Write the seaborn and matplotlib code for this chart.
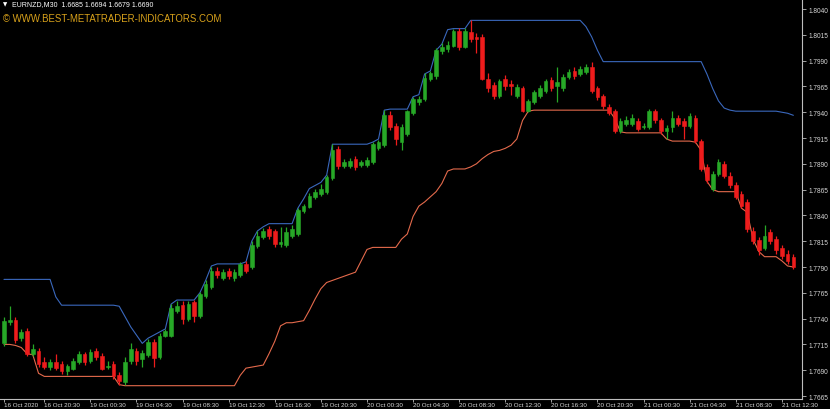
import numpy as np
import pandas as pd
import seaborn as sns
import matplotlib.pyplot as plt

# EURNZD M30 bars
opens = [1.7716, 1.7737, 1.7739, 1.7721, 1.7728, 1.7706, 1.7709, 1.7698, 1.7693, 1.7698,
         1.7696, 1.7689, 1.7691, 1.7698, 1.7706, 1.7699, 1.7709, 1.7704, 1.7693, 1.7696,
         1.7685, 1.7679, 1.7699, 1.7709, 1.7701, 1.7705, 1.7717, 1.7703, 1.7723, 1.7723,
         1.7747, 1.7753, 1.7740, 1.7756, 1.7743, 1.7762, 1.7771, 1.7786, 1.7779, 1.7786,
         1.7779, 1.7782, 1.7793, 1.7790, 1.7810, 1.7819, 1.7827, 1.7825, 1.7812, 1.7811,
         1.7820, 1.7822, 1.7844, 1.7848, 1.7858, 1.7861, 1.7863, 1.7876, 1.7904, 1.7888,
         1.7888, 1.7895, 1.7889, 1.7889, 1.7892, 1.7905, 1.7908, 1.7937, 1.7927, 1.7911,
         1.7919, 1.7939, 1.7950, 1.7953, 1.7972, 1.7975, 1.7999, 1.8001, 1.8004, 1.8019,
         1.8003, 1.8018, 1.8013, 1.8013, 1.7972, 1.7966, 1.7956, 1.7972, 1.7967, 1.7956,
         1.7963, 1.7941, 1.7950, 1.7956, 1.7961, 1.7971, 1.7965, 1.7963, 1.7974, 1.7980,
         1.7977, 1.7979, 1.7984, 1.7963, 1.7956, 1.7945, 1.7941, 1.7922, 1.7929, 1.7929,
         1.7931, 1.7926, 1.7926, 1.7941, 1.7932, 1.7922, 1.7926, 1.7934, 1.7931, 1.7927,
         1.7934, 1.7912, 1.7887, 1.7866, 1.7880, 1.7890, 1.7878, 1.7869, 1.7861, 1.7853,
         1.7825, 1.7816, 1.7808, 1.7824, 1.7817, 1.7808, 1.7803, 1.7800]
highs = [1.7742, 1.7752, 1.7742, 1.7730, 1.7731, 1.7715, 1.7712, 1.7703, 1.7701, 1.7706,
         1.7699, 1.7696, 1.7702, 1.7709, 1.7708, 1.7711, 1.7712, 1.7707, 1.7699, 1.7699,
         1.7688, 1.7703, 1.7716, 1.7712, 1.7710, 1.7720, 1.7720, 1.7726, 1.7730, 1.7754,
         1.7757, 1.7757, 1.7757, 1.7758, 1.7766, 1.7777, 1.7790, 1.7790, 1.7788, 1.7789,
         1.7788, 1.7795, 1.7796, 1.7815, 1.7825, 1.7828, 1.7830, 1.7827, 1.7829, 1.7829,
         1.7831, 1.7847, 1.7851, 1.7862, 1.7866, 1.7870, 1.7879, 1.7909, 1.7907, 1.7895,
         1.7896, 1.7898, 1.7894, 1.7897, 1.7911, 1.7913, 1.7942, 1.7941, 1.7930, 1.7929,
         1.7942, 1.7955, 1.7956, 1.7978, 1.7980, 1.8002, 1.8007, 1.8009, 1.8021, 1.8022,
         1.8022, 1.8029, 1.8017, 1.8016, 1.7978, 1.7969, 1.7972, 1.7976, 1.7971, 1.7967,
         1.7965, 1.7953, 1.7962, 1.7966, 1.7972, 1.7974, 1.7984, 1.7977, 1.7982, 1.7984,
         1.7985, 1.7987, 1.7989, 1.7965, 1.7958, 1.7948, 1.7943, 1.7934, 1.7936, 1.7938,
         1.7934, 1.7930, 1.7943, 1.7943, 1.7934, 1.7928, 1.7941, 1.7937, 1.7934, 1.7939,
         1.7937, 1.7914, 1.7890, 1.7883, 1.7895, 1.7893, 1.7882, 1.7872, 1.7864, 1.7856,
         1.7829, 1.7819, 1.7831, 1.7827, 1.7820, 1.7811, 1.7806, 1.7803]
lows = [1.7713, 1.7734, 1.7716, 1.7718, 1.7704, 1.7704, 1.7693, 1.7691, 1.7690, 1.7690,
        1.7686, 1.7685, 1.7690, 1.7696, 1.7695, 1.7697, 1.7700, 1.7690, 1.7691, 1.7681,
        1.7676, 1.7676, 1.7696, 1.7695, 1.7693, 1.7703, 1.7693, 1.7701, 1.7722, 1.7722,
        1.7745, 1.7735, 1.7738, 1.7737, 1.7741, 1.7760, 1.7769, 1.7779, 1.7777, 1.7778,
        1.7776, 1.7780, 1.7784, 1.7788, 1.7808, 1.7817, 1.7817, 1.7809, 1.7809, 1.7809,
        1.7818, 1.7820, 1.7842, 1.7847, 1.7856, 1.7859, 1.7861, 1.7874, 1.7885, 1.7886,
        1.7886, 1.7884, 1.7887, 1.7887, 1.7890, 1.7903, 1.7906, 1.7923, 1.7908, 1.7903,
        1.7917, 1.7937, 1.7947, 1.7951, 1.7970, 1.7972, 1.7996, 1.7998, 1.8003, 1.8000,
        1.8002, 1.8008, 1.7997, 1.7971, 1.7960, 1.7953, 1.7954, 1.7962, 1.7957, 1.7954,
        1.7940, 1.7940, 1.7948, 1.7954, 1.7959, 1.7961, 1.7950, 1.7961, 1.7972, 1.7972,
        1.7975, 1.7977, 1.7959, 1.7952, 1.7943, 1.7937, 1.7920, 1.7920, 1.7927, 1.7927,
        1.7922, 1.7924, 1.7924, 1.7930, 1.7919, 1.7914, 1.7921, 1.7927, 1.7914, 1.7925,
        1.7910, 1.7883, 1.7871, 1.7864, 1.7878, 1.7876, 1.7867, 1.7856, 1.7847, 1.7824,
        1.7812, 1.7802, 1.7806, 1.7812, 1.7803, 1.7798, 1.7793, 1.7788]
closes = [1.7738, 1.7739, 1.7719, 1.7727, 1.7706, 1.7711, 1.7696, 1.7693, 1.7698, 1.7692,
          1.7689, 1.7694, 1.7699, 1.7706, 1.7698, 1.7708, 1.7703, 1.7691, 1.7694, 1.7684,
          1.7680, 1.7698, 1.7711, 1.7699, 1.7707, 1.7717, 1.7702, 1.7723, 1.7728, 1.7750,
          1.7752, 1.7740, 1.7754, 1.7743, 1.7764, 1.7774, 1.7786, 1.7782, 1.7785, 1.7781,
          1.7785, 1.7793, 1.7786, 1.7811, 1.7820, 1.7825, 1.7820, 1.7812, 1.7814, 1.7824,
          1.7827, 1.7845, 1.7849, 1.7859, 1.7863, 1.7866, 1.7877, 1.7903, 1.7888, 1.7892,
          1.7893, 1.7887, 1.7892, 1.7894, 1.7909, 1.7911, 1.7937, 1.7926, 1.7914, 1.7926,
          1.7941, 1.7953, 1.7953, 1.7973, 1.7978, 1.8000, 1.8003, 1.8005, 1.8019, 1.8003,
          1.8019, 1.8011, 1.8011, 1.7972, 1.7963, 1.7956, 1.7970, 1.7965, 1.7965, 1.7964,
          1.7941, 1.7951, 1.7960, 1.7963, 1.7970, 1.7963, 1.7969, 1.7974, 1.7979, 1.7975,
          1.7982, 1.7984, 1.7961, 1.7955, 1.7946, 1.7939, 1.7922, 1.7931, 1.7932, 1.7934,
          1.7924, 1.7927, 1.7941, 1.7932, 1.7922, 1.7925, 1.7934, 1.7929, 1.7927, 1.7936,
          1.7912, 1.7885, 1.7874, 1.7880, 1.7892, 1.7878, 1.7869, 1.7858, 1.7849, 1.7827,
          1.7815, 1.7806, 1.7820, 1.7815, 1.7806, 1.7801, 1.7796, 1.7790]

# channel lines (blue upper / orange lower)
upper = ([1.7778] * 9 + [1.7761] + [1.7753] * 10
         + [1.7752, 1.7742, 1.7732, 1.7724, 1.7716, 1.7721, 1.7724, 1.7727, 1.7730, 1.7754]
         + [1.7758] * 4 + [1.7765, 1.7777, 1.7791] + [1.7793] * 5
         + [1.7795, 1.7815, 1.7825, 1.7829] + [1.7832] * 5
         + [1.7847, 1.7856, 1.7866, 1.7869, 1.7872, 1.7879, 1.7909] + [1.7909] * 6
         + [1.7911, 1.7914, 1.7942] + [1.7943] * 4
         + [1.7955, 1.7957, 1.7977, 1.7980, 1.8000, 1.8006, 1.8020] + [1.8021] * 3
         + [1.8029] * 20 + [1.8023, 1.8013, 1.8000, 1.7989] + [1.7989] * 17
         + [1.7977, 1.7963, 1.7951, 1.7944, 1.7942] + [1.7941] * 8 + [1.7940, 1.7939, 1.7937])
lower = ([1.7715] * 2 + [1.7714, 1.7712, 1.7706, 1.7705, 1.7687] + [1.7684] * 13
         + [1.7676] + [1.7675] * 20
         + [1.7685, 1.7692, 1.7693, 1.7694, 1.7695, 1.7706, 1.7718, 1.7733, 1.7736, 1.7736,
            1.7737, 1.7738, 1.7748, 1.7759, 1.7769, 1.7775, 1.7777, 1.7779, 1.7781, 1.7783,
            1.7785, 1.7796, 1.7807] + [1.7809] * 5
         + [1.7817, 1.7822, 1.7839, 1.7849, 1.7853, 1.7858, 1.7863, 1.7871, 1.7883] + [1.7885] * 3
         + [1.7887, 1.7890, 1.7895, 1.7899, 1.7902, 1.7903, 1.7905, 1.7908, 1.7914, 1.7932, 1.7941]
         + [1.7942] * 14 + [1.7934, 1.7921] + [1.7920] * 7 + [1.7914] + [1.7912] * 4
         + [1.7911, 1.7903, 1.7873, 1.7865] + [1.7863] * 4
         + [1.7847, 1.7843, 1.7817, 1.7805] + [1.7800] * 3 + [1.7796, 1.7791, 1.7790])

price_ticks = [1.7665, 1.7690, 1.7715, 1.7740, 1.7765, 1.7790, 1.7815, 1.7840,
               1.7865, 1.7890, 1.7915, 1.7940, 1.7965, 1.7990, 1.8015, 1.8040]
time_ticks = [0, 7, 15, 23, 31, 39, 47, 55, 63, 71, 79, 87, 95, 103, 111, 119, 127, 135]
time_labels = ['16 Oct 2020', '16 Oct 20:30', '19 Oct 00:30', '19 Oct 04:30', '19 Oct 08:30',
               '19 Oct 12:30', '19 Oct 16:30', '19 Oct 20:30', '20 Oct 00:30', '20 Oct 04:30',
               '20 Oct 08:30', '20 Oct 12:30', '20 Oct 16:30', '20 Oct 20:30', '21 Oct 00:30',
               '21 Oct 04:30', '21 Oct 08:30', '21 Oct 12:30']

df = pd.DataFrame({'open': opens, 'high': highs, 'low': lows, 'close': closes,
                   'upper': upper, 'lower': lower})
df['bar'] = np.arange(len(df))

sns.set_theme(style='dark', rc={'axes.facecolor': 'black', 'figure.facecolor': 'black',
                                'axes.edgecolor': '#bdbdbd', 'axes.grid': False,
                                'text.color': 'white'})
plt.rcParams['font.family'] = ['Liberation Sans', 'DejaVu Sans']

fig = plt.figure(figsize=(8.3, 4.1), dpi=100)
# plot area: right price scale at x~802 px, time axis at y~400 px
ax = fig.add_axes([0, 10 / 410, 802 / 830, 400 / 410])

bull = df.close >= df.open
cols = np.where(bull, '#27a827', '#ee1c1c')

sns.lineplot(data=df, x='bar', y='upper', color='#3a68bd', lw=0.8, ax=ax, zorder=2)
sns.lineplot(data=df, x='bar', y='lower', color='#e46a4c', lw=0.8, ax=ax, zorder=2)

ax.vlines(df.bar, df.low, df.high, colors=cols, lw=0.9, zorder=3)
ax.bar(df.bar, (df.close - df.open).abs(), bottom=np.minimum(df.open, df.close),
       width=0.64, color=cols, edgecolor=cols, linewidth=0.4, zorder=4)

ax.set_xlim(-0.69, 138.5)
ax.set_ylim(1.76621, 1.80497)
ax.set_xlabel('')
ax.set_ylabel('')

ax.yaxis.tick_right()
ax.set_yticks(price_ticks)
ax.set_yticklabels([f'{p:.4f}' for p in price_ticks])
ax.set_xticks(time_ticks)
ax.set_xticklabels(time_labels)
for lbl in ax.get_xticklabels():
    lbl.set_ha('left')

ax.tick_params(axis='y', right=True, left=False, direction='out', length=3, width=0.6,
               colors='#bdbdbd', labelcolor='#d8d8d8', labelsize=4.7, pad=2)
ax.tick_params(axis='x', bottom=True, direction='out', length=2, width=0.6,
               colors='#bdbdbd', labelcolor='#d8d8d8', labelsize=4.5, pad=0.5)

for side in ['left', 'top']:
    ax.spines[side].set_visible(False)
for side in ['right', 'bottom']:
    ax.spines[side].set_color('#bdbdbd')
    ax.spines[side].set_linewidth(0.8)

fig.text(3 / 830, 1 - 5 / 410, '\u25bc', color='white', fontsize=4, va='center',
         family=['DejaVu Sans'])
fig.text(12 / 830, 1 - 5 / 410, 'EURNZD,M30  1.6685 1.6694 1.6679 1.6690', color='white',
         fontsize=5, va='center')
fig.text(3 / 830, 1 - 19 / 410, '\u00a9 WWW.BEST-METATRADER-INDICATORS.COM', color='#d9a21b',
         fontsize=6.9, va='center')

fig.savefig('out.png', dpi=100, facecolor='black')
